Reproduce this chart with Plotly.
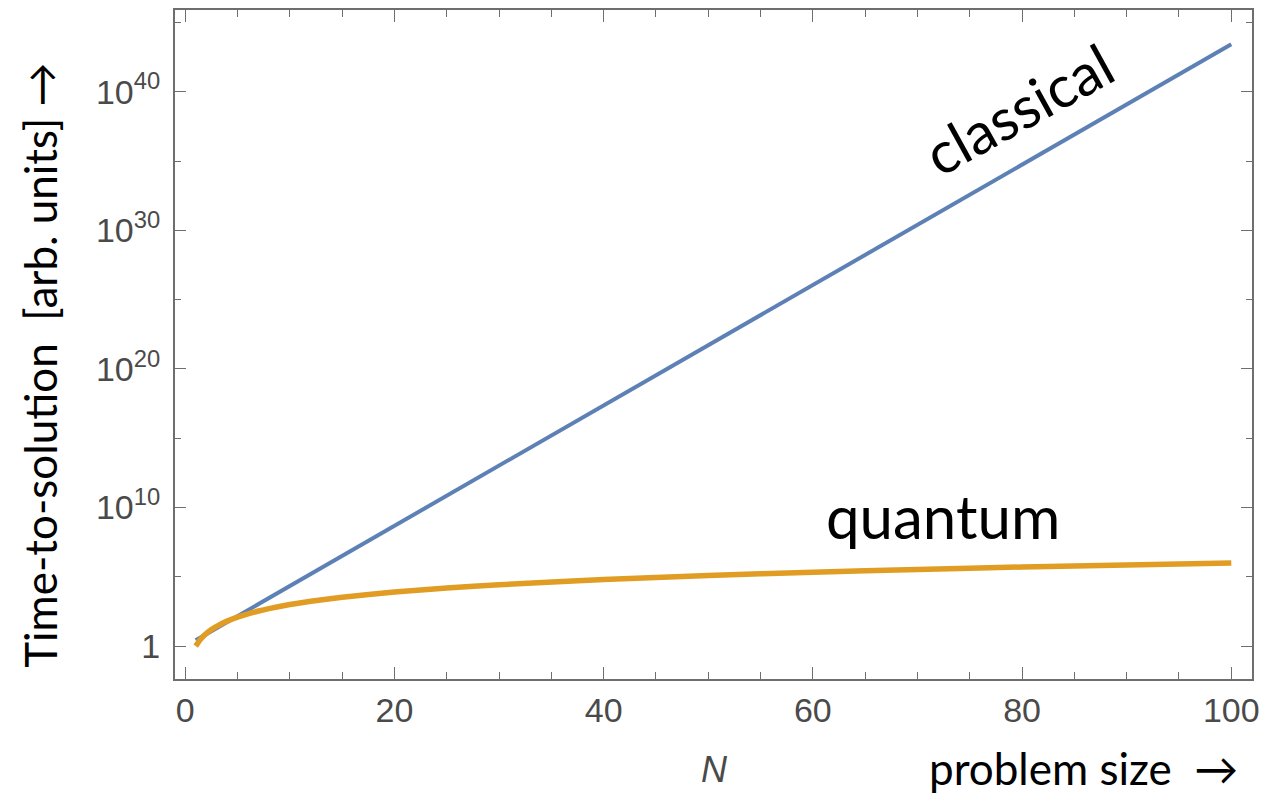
import plotly.graph_objects as go

# Data
classical_N = [1, 10, 20, 30, 40, 50, 60, 70, 80, 90, 100]
classical_T = [2.7, 2.2e4, 4.9e8, 1.1e13, 2.4e17, 5.2e21, 1.1e26, 2.5e30, 5.5e34, 1.2e39, 2.7e43]

quantum_N = [1, 1.5, 2, 2.5, 3, 4, 5, 6, 7, 8, 10, 12, 15, 20, 25, 30, 40, 50, 60, 70, 80, 90, 100]
quantum_T = [1, 3.4, 8, 15.6, 27, 64, 125, 216, 343, 512, 1000, 1730, 3380, 8000, 15600,
             27000, 64000, 125000, 216000, 343000, 512000, 729000, 1000000]

x_ticks = [0, 20, 40, 60, 80, 100]
y_ticks = [1, 1e10, 1e20, 1e30, 1e40]
y_ticktext = ["1", "10<sup>10</sup>", "10<sup>20</sup>", "10<sup>30</sup>", "10<sup>40</sup>"]
y_minor = [1e5, 1e15, 1e25, 1e35, 1e45]

BLUE = "#5E81B5"
ORANGE = "#E19C24"
FRAME = "#6e6e6e"
TICKFONT = dict(family="Liberation Sans, Arial, sans-serif", size=34, color="#4a4a4a")
LABELFONT = "Lato, Calibri, 'Open Sans', sans-serif"

fig = go.Figure()
fig.add_trace(go.Scatter(x=classical_N, y=classical_T, mode="lines",
                         line=dict(color=BLUE, width=4), showlegend=False))
fig.add_trace(go.Scatter(x=quantum_N, y=quantum_T, mode="lines",
                         line=dict(color=ORANGE, width=5.5, shape="spline", smoothing=0.6),
                         showlegend=False))

fig.update_layout(
    width=1268, height=794,
    margin=dict(l=175, r=11, t=8, b=115),
    paper_bgcolor="white", plot_bgcolor="white",
    xaxis=dict(range=[-0.98, 101.98], tickmode="array", tickvals=x_ticks,
               ticks="inside", ticklen=12, tickwidth=1.2, tickcolor=FRAME,
               minor=dict(tickmode="linear", tick0=0, dtick=5, ticks="inside",
                          ticklen=7, tickwidth=1.2, tickcolor=FRAME, showgrid=False),
               showline=True, linecolor=FRAME, linewidth=2, mirror="ticks",
               showgrid=False, zeroline=False, tickfont=TICKFONT),
    yaxis=dict(type="log", range=[-2.37, 45.9], tickmode="array", tickvals=y_ticks,
               ticktext=y_ticktext,
               ticks="inside", ticklen=11, tickwidth=1.2, tickcolor=FRAME,
               minor=dict(tickmode="array", tickvals=y_minor, ticks="inside",
                          ticklen=6, tickwidth=1.2, tickcolor=FRAME, showgrid=False),
               showline=True, linecolor=FRAME, linewidth=2, mirror="ticks",
               showgrid=False, zeroline=False, tickfont=TICKFONT, ticklabelstandoff=6),
)

fig.add_annotation(text="classical", xref="paper", yref="paper", x=0.783, y=0.853,
                   xanchor="center", yanchor="middle",
                   showarrow=False, textangle=-29,
                   font=dict(family=LABELFONT, size=58, color="black"))
fig.add_annotation(text="quantum", xref="paper", yref="paper", x=0.7135, y=0.243,
                   xanchor="center", yanchor="middle", showarrow=False,
                   font=dict(family=LABELFONT, size=60, color="black"))
fig.add_annotation(text="Time-to-solution  [arb. units] \u2192", xref="paper", yref="paper",
                   x=-0.1248, y=0.469, xanchor="center", yanchor="middle",
                   showarrow=False, textangle=-90,
                   font=dict(family=LABELFONT, size=44, color="black"))
fig.add_annotation(text="problem size  \u2192", xref="paper", yref="paper",
                   x=0.8438, y=-0.1326, xanchor="center", yanchor="middle", showarrow=False,
                   font=dict(family=LABELFONT, size=44, color="black"))
fig.add_annotation(text="<i>N</i>", xref="paper", yref="paper",
                   x=0.501, y=-0.135, xanchor="center", yanchor="middle", showarrow=False,
                   font=dict(family="Liberation Sans, Arial, sans-serif", size=36, color="#4a4a4a"))

fig.write_html("out.html")
